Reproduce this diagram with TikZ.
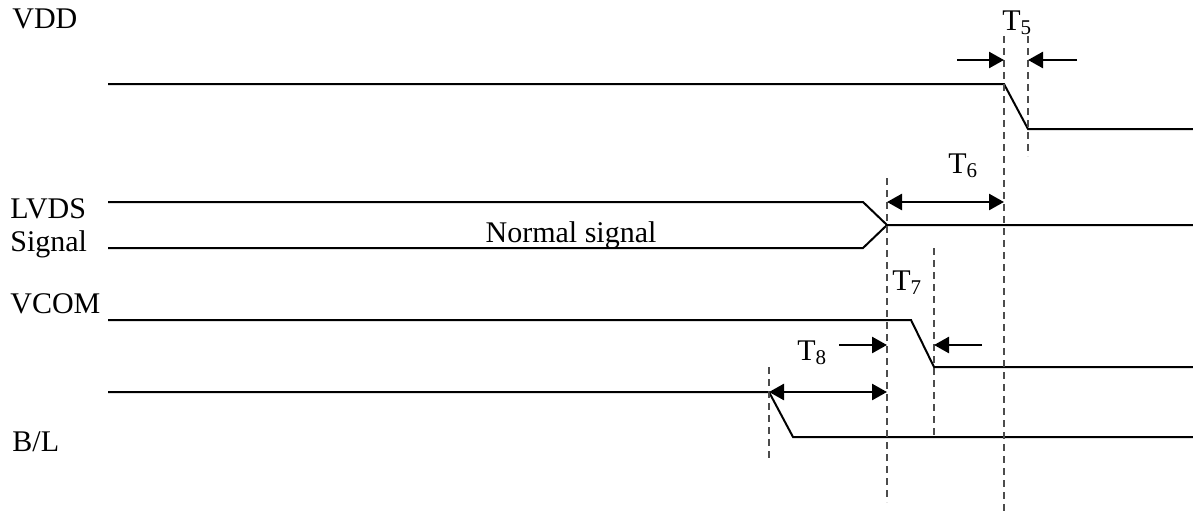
\documentclass[tikz,border=0pt]{standalone}
\usepackage{fontspec}
\setmainfont{Liberation Serif}
\usetikzlibrary{arrows.meta}
\begin{document}
\begin{tikzpicture}[x=0.5pt,y=-0.5pt,
  sig/.style={line width=1pt,line join=miter},
  guide/.style={line width=1.2pt,draw=black!70,dash pattern=on 3.5pt off 2.5pt},
  tarrow/.style={line width=1.3pt,-{Triangle[length=7.5pt,width=8pt]}},
  tdarrow/.style={line width=1.3pt,{Triangle[length=7.5pt,width=8pt]}-{Triangle[length=7.5pt,width=8pt]}},
  lbl/.style={inner sep=0pt,anchor=base west,font=\fontsize{15pt}{17pt}\selectfont},
  tl/.style={inner sep=0pt,anchor=base west,font=\fontsize{15pt}{17pt}\selectfont}]
\useasboundingbox (0,0) rectangle (1193,514);
% labels
\node[lbl] (vddl) at (12,28) {VDD};
\node[lbl] (lvdsl) at (10,218) {LVDS};
\node[lbl] (sigl) at (10,251) {Signal};
\node[lbl] (vcoml) at (10,313) {VCOM};
\node[lbl] (bll) at (12,451) {B/L};
\node[lbl,anchor=base] (norm) at (571,242) {Normal signal};
% coordinates
\coordinate (v0) at (108,84); \coordinate (v1) at (1004,84);
\coordinate (v2) at (1028,129); \coordinate (v3) at (1193,129);
\coordinate (l0) at (108,202); \coordinate (l1) at (863,202);
\coordinate (l2) at (108,248); \coordinate (l3) at (863,248);
\coordinate (lx) at (887,225); \coordinate (l4) at (1193,225);
\coordinate (c0) at (108,320); \coordinate (c1) at (911,320);
\coordinate (c2) at (934,367); \coordinate (c3) at (1193,367);
\coordinate (b0) at (108,392); \coordinate (b1) at (769,392);
\coordinate (b2) at (793,437); \coordinate (b3) at (1193,437);
% signals
\draw[sig] (v0) -- (v1) -- (v2) -- (v3);
\draw[sig] (l0) -- (l1) -- (lx) -- (l4);
\draw[sig] (l2) -- (l3) -- (lx);
\draw[sig] (c0) -- (c1) -- (c2) -- (c3);
\draw[sig] (b0) -- (b1) -- (b2) -- (b3);
% guides
\coordinate (g1t) at (1004,36); \coordinate (g1b) at (1004,512);
\coordinate (g2t) at (1028,36); \coordinate (g2b) at (1028,156);
\coordinate (g3t) at (887,178); \coordinate (g3b) at (887,502);
\coordinate (g4t) at (934,248); \coordinate (g4b) at (934,436);
\coordinate (g5t) at (769,367); \coordinate (g5b) at (769,460);
\draw[guide] (g1t) -- (g1b);
\draw[guide] (g2t) -- (g2b);
\draw[guide] (g3t) -- (g3b);
\draw[guide] (g4t) -- (g4b);
\draw[guide] (g5t) -- (g5b);
% T5
\coordinate (a5l) at (957,60); \coordinate (a5le) at (1004,60);
\coordinate (a5r) at (1077,60); \coordinate (a5re) at (1028,60);
\draw[tarrow] (a5l) -- (a5le);
\draw[tarrow] (a5r) -- (a5re);
\node[tl] (t5) at (1002,30) {T\textsubscript{5}};
% T6
\coordinate (a6l) at (887,202); \coordinate (a6r) at (1004,202);
\draw[tdarrow] (a6l) -- (a6r);
\node[tl] (t6) at (948,173) {T\textsubscript{6}};
% T7
\coordinate (a7l) at (839,345); \coordinate (a7le) at (887,345);
\coordinate (a7r) at (982,345); \coordinate (a7re) at (934,345);
\draw[tarrow] (a7l) -- (a7le);
\draw[tarrow] (a7r) -- (a7re);
\node[tl] (t7) at (892,290) {T\textsubscript{7}};
% T8
\coordinate (a8l) at (769,392); \coordinate (a8r) at (887,392);
\draw[tdarrow] (a8l) -- (a8r);
\node[tl] (t8) at (797,360) {T\textsubscript{8}};
\end{tikzpicture}
\end{document}
